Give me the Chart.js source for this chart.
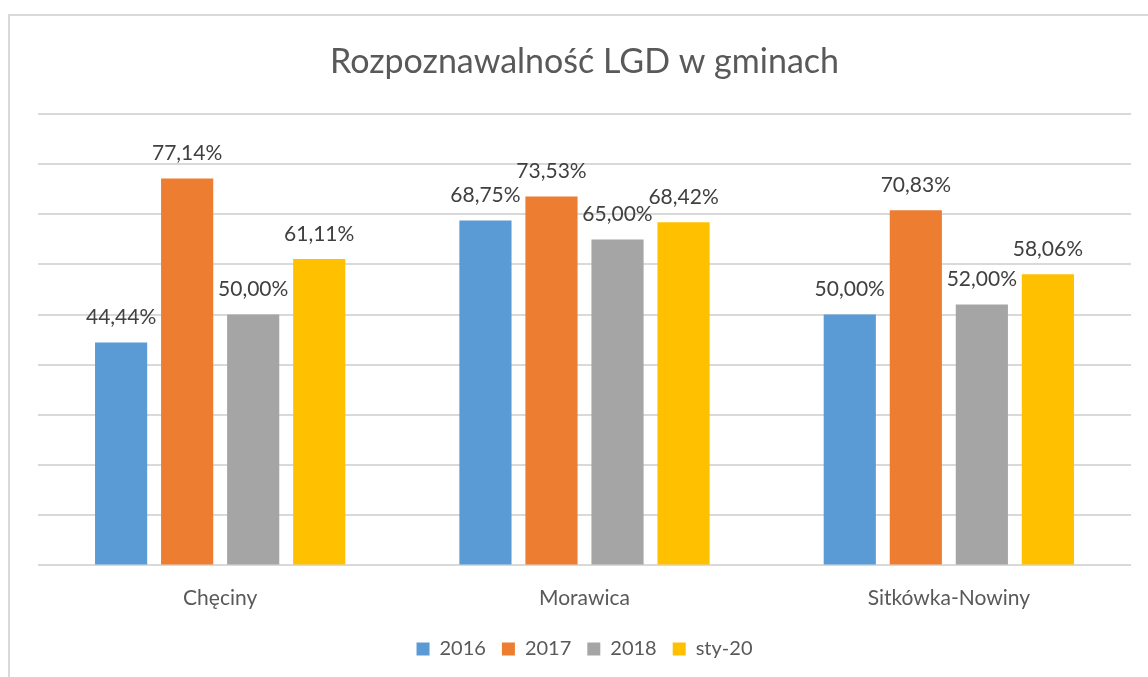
<!DOCTYPE html>
<html>
<head>
<meta charset="utf-8">
<script src="https://cdn.jsdelivr.net/npm/chart.js@4.4.1/dist/chart.umd.min.js"></script>
<style>
  html, body { margin: 0; padding: 0; background: #fff; overflow: hidden; }
  #wrap { position: relative; width: 1148px; height: 677px; }
  #frame { position: absolute; left: 8px; top: 14px; width: 1200px; height: 700px;
           border-left: 2px solid #d9d9d9; border-top: 2px solid #d9d9d9; box-sizing: border-box; }
  canvas { position: absolute; left: 0; top: 0; }
</style>
</head>
<body>
<div id="wrap">
  <div id="frame"></div>
  <canvas id="lgd-chart" width="1148" height="677"></canvas>
</div>
<script>
// dane z wykresu
const categories = ['Chęciny', 'Morawica', 'Sitkówka-Nowiny'];
const seriesNames = ['2016', '2017', '2018', 'sty-20'];
const values2016 = [44.44, 68.75, 50.00];
const values2017 = [77.14, 73.53, 70.83];
const values2018 = [50.00, 65.00, 52.00];
const valuesSty20 = [61.11, 68.42, 58.06];
const yTicks = [0, 10, 20, 30, 40, 50, 60, 70, 80, 90];

const seriesColors = ['#5B9BD5', '#ED7D31', '#A5A5A5', '#FFC000'];
const allValues = [values2016, values2017, values2018, valuesSty20];
const fontFamily = 'Lato, "Liberation Sans", sans-serif';

// etykiety wartosci nad slupkami
const valueLabels = {
  id: 'valueLabels',
  afterDatasetsDraw(chart) {
    const ctx = chart.ctx;
    ctx.save();
    ctx.font = '21px ' + fontFamily;
    ctx.fillStyle = '#404040';
    ctx.textAlign = 'center';
    ctx.textBaseline = 'middle';
    chart.data.datasets.forEach((ds, i) => {
      chart.getDatasetMeta(i).data.forEach((bar, j) => {
        const txt = ds.data[j].toFixed(2).replace('.', ',') + '%';
        ctx.fillText(txt, bar.x, bar.y - 25);
      });
    });
    ctx.restore();
  }
};

new Chart(document.getElementById('lgd-chart').getContext('2d'), {
  type: 'bar',
  data: {
    labels: categories,
    datasets: seriesNames.map((name, i) => ({
      label: name,
      data: allValues[i],
      backgroundColor: seriesColors[i],
      borderWidth: 0,
      categoryPercentage: 0.725,
      barPercentage: 0.79
    }))
  },
  options: {
    responsive: false,
    animation: false,
    layout: { padding: { left: 38, right: 17, top: 0, bottom: 8 } },
    plugins: {
      title: {
        display: true,
        text: 'Rozpoznawalność LGD w gminach',
        color: '#595959',
        font: { family: fontFamily, size: 34, weight: 'normal' },
        padding: { top: 41.6, bottom: 31.6 }
      },
      legend: {
        position: 'bottom',
        labels: {
          color: '#595959',
          font: { family: fontFamily, size: 20 },
          boxWidth: 13,
          boxHeight: 13,
          padding: 16
        }
      },
      tooltip: { enabled: false }
    },
    scales: {
      x: {
        grid: { display: false },
        border: { display: false },
        ticks: { color: '#595959', font: { family: fontFamily, size: 21, lineHeight: 0.495 }, padding: 19.6 }
      },
      y: {
        min: 0,
        max: 90,
        afterBuildTicks: (axis) => { axis.ticks = yTicks.map(v => ({ value: v })); },
        grid: { color: '#d9d9d9', lineWidth: 2, drawTicks: false },
        border: { display: false },
        ticks: { display: false }
      }
    }
  },
  plugins: [valueLabels]
});
</script>
</body>
</html>
